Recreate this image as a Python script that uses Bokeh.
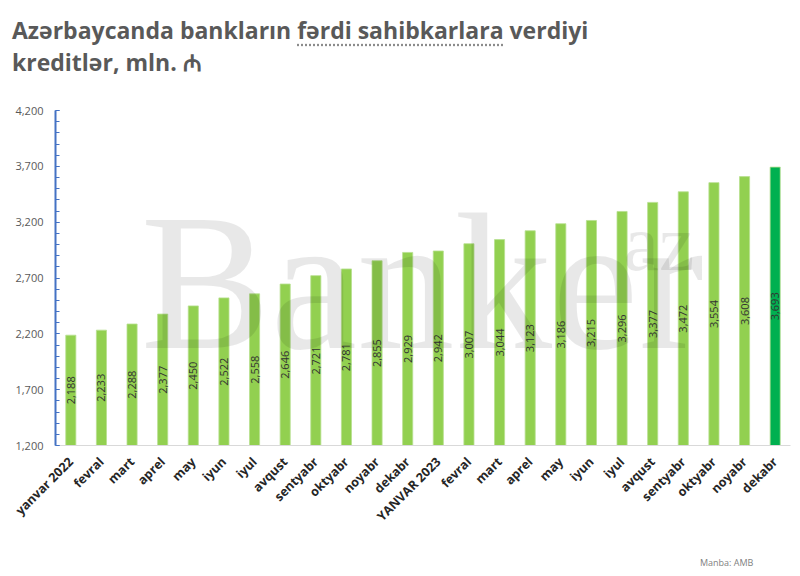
import math
from bokeh.plotting import figure
from bokeh.layouts import column
from bokeh.models import (ColumnDataSource, Range1d, FixedTicker,
                          NumeralTickFormatter, Label, Div)
from bokeh.core.properties import value
from bokeh.embed import file_html
from bokeh.resources import INLINE

months = ["yanvar 2022", "fevral", "mart", "aprel", "may", "iyun", "iyul", "avqust",
          "sentyabr", "oktyabr", "noyabr", "dekabr",
          "YANVAR 2023", "fevral", "mart", "aprel", "may", "iyun", "iyul", "avqust",
          "sentyabr", "oktyabr", "noyabr", "dekabr"]
credits = [2188, 2233, 2288, 2377, 2450, 2522, 2558, 2646, 2721, 2781, 2855, 2929,
           2942, 3007, 3044, 3123, 3186, 3215, 3296, 3377, 3472, 3554, 3608, 3693]
y_ticks = [1200, 1700, 2200, 2700, 3200, 3700, 4200]
y_minor_step = 100

FONT = "Open Sans"
n = len(months)
idx = list(range(n))
y0 = y_ticks[0]
colors = ["#92D050"] * (n - 1) + ["#00B050"]

src = ColumnDataSource(dict(
    x=idx,
    top=credits,
    color=colors,
    mid=[(y0 + v) / 2 for v in credits],
    lbl=[f"{v:,}" for v in credits],
))

title_div = Div(
    width=800, height=100, margin=(0, 0, 0, 0),
    text=("<div style=\"font-family:'Open Sans'; font-weight:bold; font-size:23px; "
          "color:#595959; line-height:32px; padding:14px 0 0 12px; white-space:nowrap;\">"
          "Azərbaycanda bankların "
          "<span style=\"text-decoration-line:underline; text-decoration-style:dotted; "
          "text-decoration-color:#8C8C8C; text-underline-offset:5px;\">"
          "fərdi sahibkarlara</span> verdiyi<br>kreditlər, mln. ₼</div>"))

p = figure(width=800, height=450, output_backend="svg", toolbar_location=None,
           x_range=Range1d(-0.5, n - 0.5), y_range=Range1d(y_ticks[0], y_ticks[-1]),
           min_border_left=55, min_border_right=10, min_border_bottom=105,
           min_border_top=10, margin=(0, 0, 0, 0),
           background_fill_color="white", border_fill_color="white")
p.outline_line_color = None
p.xgrid.grid_line_color = None
p.ygrid.grid_line_color = None

p.vbar(x="x", top="top", bottom=y0, width=0.33, fill_color="color",
       line_color="#B7E08F", line_width=0.8, source=src)
p.text(x="x", y="mid", text="lbl", angle=math.pi / 2, text_align="center",
       text_baseline="middle", text_font=value(FONT), text_font_size="11px",
       text_color="#333333", source=src)

# watermark
p.add_layout(Label(x=85, y=1700, x_units="screen", y_units="data", text="Banker",
                   text_font="Liberation Serif", text_baseline="bottom",
                   text_font_size="195px", text_color="#000000", text_alpha=0.09))
p.add_layout(Label(x=568, y=2615, x_units="screen", y_units="data", text="az",
                   text_font="Liberation Serif", text_baseline="bottom",
                   text_font_size="80px", text_color="#000000", text_alpha=0.09))

# y axis
yax = p.yaxis[0]
yax.ticker = FixedTicker(ticks=y_ticks,
                         minor_ticks=list(range(y_ticks[0], y_ticks[-1] + 1, y_minor_step)))
yax.formatter = NumeralTickFormatter(format="0,0")
yax.axis_line_color = "#4472C4"
yax.axis_line_width = 2
yax.major_tick_line_color = "#4472C4"
yax.minor_tick_line_color = "#4472C4"
yax.major_tick_in = 4
yax.major_tick_out = 0
yax.minor_tick_in = 4
yax.minor_tick_out = 0
yax.major_label_text_font = FONT
yax.major_label_text_font_size = "11px"
yax.major_label_text_color = "#595959"
yax.major_label_standoff = 12

# x axis
xax = p.xaxis[0]
xax.ticker = FixedTicker(ticks=idx)
xax.major_label_overrides = {i: m for i, m in enumerate(months)}
xax.major_label_orientation = math.pi / 4
xax.axis_line_color = "#D9D9D9"
xax.axis_line_width = 1
xax.major_tick_line_color = None
xax.minor_tick_line_color = None
xax.major_label_text_font = FONT
xax.major_label_text_font_style = "bold"
xax.major_label_text_font_size = "12.5px"
xax.major_label_text_color = "#262626"
xax.major_label_standoff = 8

source_div = Div(
    width=800, height=26, margin=(0, 0, 0, 0),
    text=("<div style=\"font-family:'Open Sans'; font-size:9px; color:#7F7F7F; "
          "padding:7px 0 0 700px; white-space:nowrap;\">Manba: AMB</div>"))

layout = column(title_div, p, source_div, spacing=0)
open("out.html", "w").write(file_html(layout, INLINE))
